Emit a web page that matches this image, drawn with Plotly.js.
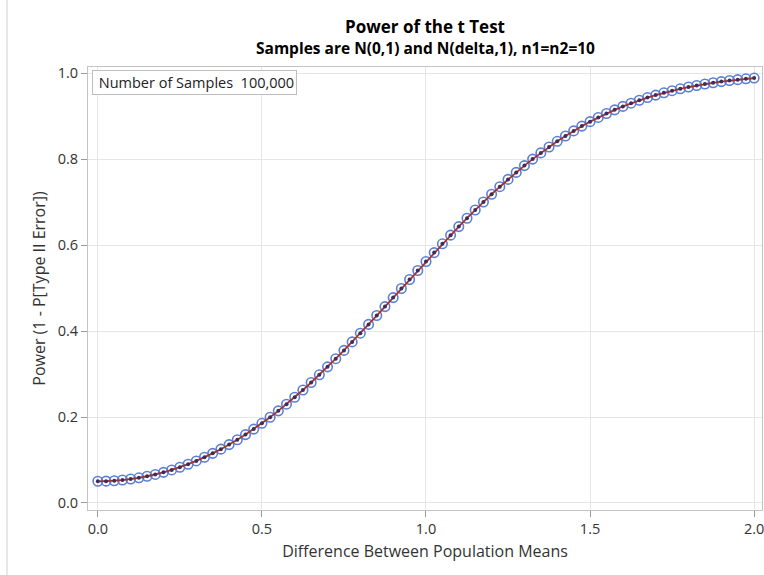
<!DOCTYPE html>
<html>
<head>
<meta charset="utf-8">
<script src="https://cdn.plot.ly/plotly-3.0.1.min.js"></script>
<style>html,body{margin:0;padding:0;background:#fff;}#chart{width:764px;height:575px;}</style>
</head>
<body>
<div id="chart"></div>
<script>
var delta = [0,0.025,0.05,0.075,0.1,0.125,0.15,0.175,0.2,0.225,0.25,0.275,0.3,0.325,0.35,0.375,0.4,0.425,0.45,0.475,
0.5,0.525,0.55,0.575,0.6,0.625,0.65,0.675,0.7,0.725,0.75,0.775,0.8,0.825,0.85,0.875,0.9,0.925,0.95,0.975,
1.0,1.025,1.05,1.075,1.1,1.125,1.15,1.175,1.2,1.225,1.25,1.275,1.3,1.325,1.35,1.375,1.4,1.425,1.45,1.475,
1.5,1.525,1.55,1.575,1.6,1.625,1.65,1.675,1.7,1.725,1.75,1.775,1.8,1.825,1.85,1.875,1.9,1.925,1.95,1.975,2.0];
var power = [0.0505,0.0508,0.0518,0.0534,0.0557,0.0586,0.0622,0.0664,0.0713,0.0769,0.0832,0.0902,0.0978,0.1063,0.1154,0.1252,0.1358,0.1471,0.1591,0.1719,
0.1853,0.1995,0.2143,0.2298,0.2460,0.2627,0.2802,0.2981,0.3166,0.3356,0.3549,0.3747,0.3949,0.4153,0.4360,0.4568,0.4777,0.4988,0.5197,0.5407,
0.5616,0.5823,0.6028,0.6229,0.6428,0.6623,0.6814,0.7000,0.7181,0.7356,0.7526,0.7689,0.7847,0.7998,0.8142,0.8280,0.8412,0.8536,0.8654,0.8765,
0.8869,0.8967,0.9059,0.9144,0.9224,0.9298,0.9366,0.9429,0.9487,0.9540,0.9589,0.9633,0.9674,0.9710,0.9744,0.9773,0.9800,0.9825,0.9846,0.9865,0.9883];
var xTicks = [0, 0.5, 1.0, 1.5, 2.0];
var xTickText = ["0.0", "0.5", "1.0", "1.5", "2.0"];
var yTicks = [0, 0.2, 0.4, 0.6, 0.8, 1.0];
var yTickText = ["0.0", "0.2", "0.4", "0.6", "0.8", "1.0"];
var titleText = "Power of the t Test";
var subtitleText = "Samples are N(0,1) and N(delta,1), n1=n2=10";
var insetText = "&nbsp;Number of Samples&nbsp;&nbsp;100,000";

var traces = [
  {x: delta, y: power, mode: "markers", type: "scatter",
   marker: {symbol: "circle-open", size: 9.5, color: "#5B7FD6", line: {width: 1.6, color: "#4A6CC8"}},
   hoverinfo: "skip"},
  {x: delta, y: power, mode: "lines+markers", type: "scatter",
   line: {color: "#A8322D", width: 1.8},
   marker: {symbol: "circle", size: 4, color: "#3A2E5A"},
   hoverinfo: "skip"}
];

var fam = "Open Sans, Liberation Sans, sans-serif";
var tickFont = {family: fam, size: 14.5, color: "#333"};
var layout = {
  width: 764, height: 575,
  margin: {l: 88, r: 2, t: 67, b: 65},
  paper_bgcolor: "#fff", plot_bgcolor: "#fff",
  showlegend: false,
  xaxis: {
    range: [-0.03, 2.024], tickvals: xTicks, ticktext: xTickText,
    ticklabeloverflow: "allow",
    showgrid: true, gridcolor: "#E6E6E6", gridwidth: 1, zeroline: false,
    showline: true, linecolor: "#C4C4C4", linewidth: 1, mirror: true,
    ticks: "outside", ticklen: 6, tickcolor: "#999", tickfont: tickFont,
    title: {text: "Difference Between Population Means", font: {family: fam, size: 16, color: "#333"}, standoff: 8}
  },
  yaxis: {
    range: [-0.0163, 1.014], tickvals: yTicks, ticktext: yTickText,
    showgrid: true, gridcolor: "#E6E6E6", gridwidth: 1, zeroline: false,
    showline: true, linecolor: "#C4C4C4", linewidth: 1, mirror: true,
    ticks: "outside", ticklen: 6, tickcolor: "#999", tickfont: tickFont,
    title: {text: "Power (1 - P[Type II Error])", font: {family: fam, size: 16, color: "#333"}, standoff: 8}
  },
  annotations: [
    {text: titleText, xref: "paper", yref: "paper", x: 0.5, y: 1.0 + (67 - 26) / 443, xanchor: "center", yanchor: "middle",
     showarrow: false, font: {family: fam, size: 17, color: "#000", weight: "bold"}},
    {text: subtitleText, xref: "paper", yref: "paper", x: 0.5, y: 1.0 + (67 - 48) / 443, xanchor: "center", yanchor: "middle",
     showarrow: false, font: {family: fam, size: 15.5, color: "#000", weight: "bold"}},
    {text: insetText, xref: "paper", yref: "paper", x: 4 / 674, y: 1 - 3 / 443, xanchor: "left", yanchor: "top",
     showarrow: false, bordercolor: "#BDBDBD", borderwidth: 1, borderpad: 2, bgcolor: "#fff",
     font: {family: fam, size: 14.5, color: "#222"}}
  ],
  shapes: [
    {type: "line", xref: "paper", yref: "paper", x0: (7 - 88) / 674, x1: (7 - 88) / 674, y0: -0.15, y1: 1.16,
     line: {color: "#D0D0D0", width: 1}}
  ]
};
Plotly.newPlot("chart", traces, layout, {displayModeBar: false, staticPlot: true});
</script>
</body>
</html>
